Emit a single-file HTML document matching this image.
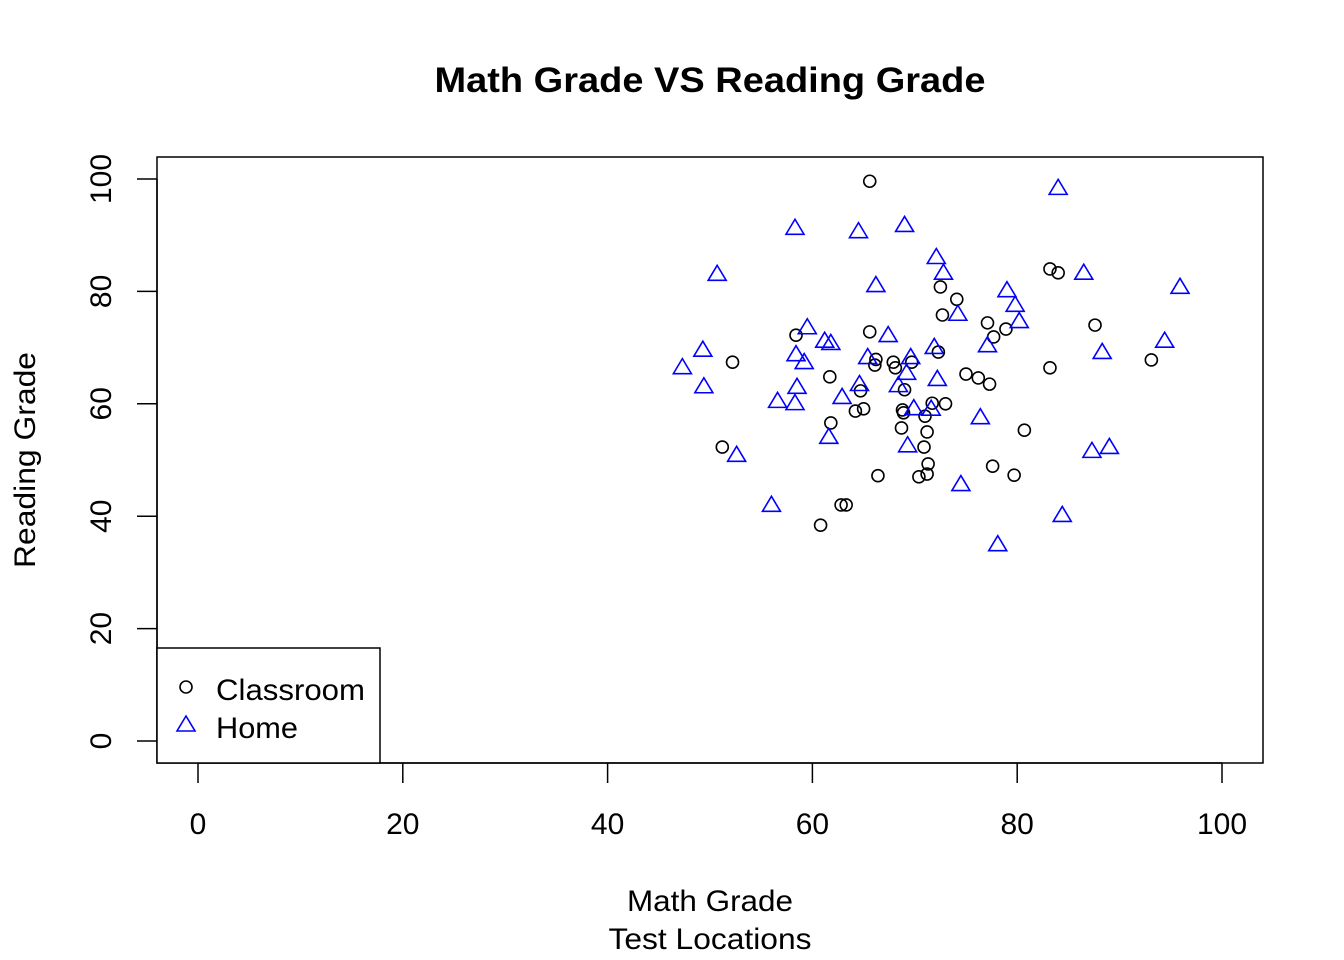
<!DOCTYPE html>
<html><head><meta charset="utf-8"><style>
html,body{margin:0;padding:0;background:#fff;}
svg{display:block;font-family:"Liberation Sans",Arial,sans-serif;}
</style></head><body>
<svg id="chart" width="1344" height="960" viewBox="0 0 1344 960">
<text x="710" y="92" text-anchor="middle" font-size="35" font-weight="bold" textLength="551" lengthAdjust="spacingAndGlyphs">Math Grade VS Reading Grade</text>
<rect x="157" y="157" width="1106" height="606" fill="none" stroke="#000" stroke-width="1.5"/>
<g id="xaxis"></g>
<g id="yaxis"></g>
<g id="points"></g>
<text x="710" y="911" text-anchor="middle" font-size="30" textLength="166" lengthAdjust="spacingAndGlyphs">Math Grade</text>
<text x="710" y="949" text-anchor="middle" font-size="30" textLength="203" lengthAdjust="spacingAndGlyphs">Test Locations</text>
<text transform="translate(35,460) rotate(-90)" text-anchor="middle" font-size="30" textLength="216" lengthAdjust="spacingAndGlyphs">Reading Grade</text>
<g>
<rect x="157" y="648" width="223" height="115" fill="#fff" stroke="#000" stroke-width="1.5"/>
<circle cx="186" cy="687" r="6" fill="none" stroke="#000" stroke-width="1.6"/>
<text x="216" y="700" font-size="30" textLength="149" lengthAdjust="spacingAndGlyphs">Classroom</text>
<polygon points="186,716 195,731 177,731" fill="none" stroke="#0000ff" stroke-width="1.6"/>
<text x="216" y="738" font-size="30" textLength="82" lengthAdjust="spacingAndGlyphs">Home</text>
</g>
</svg>
<script>
const xTicks=[0,20,40,60,80,100];
const yTicks=[0,20,40,60,80,100];
const classroomMath=[65.6,83.2,84.0,72.5,74.1,72.7,77.1,78.9,77.7,87.6,58.4,65.6,72.3,52.2,66.2,66.1,67.9,68.1,69.7,75.0,76.2,77.3,83.2,93.1,61.7,64.7,69.0,71.7,73.0,64.2,65.0,68.8,68.9,71.0,61.8,68.7,71.2,80.7,70.9,51.2,71.3,77.6,71.2,70.4,66.4,79.7,62.8,63.3,60.8];
const classroomReading=[99.6,84.0,83.3,80.8,78.6,75.8,74.4,73.3,71.9,74.0,72.2,72.8,69.2,67.4,67.9,66.9,67.4,66.4,67.4,65.3,64.6,63.5,66.4,67.8,64.8,62.3,62.5,60.1,60.0,58.7,59.1,58.9,58.4,57.8,56.6,55.7,55.0,55.3,52.3,52.3,49.3,48.9,47.5,47.0,47.2,47.3,42.0,42.0,38.4];
const homeMath=[84.0,58.3,64.5,69.0,72.1,72.8,50.7,86.5,66.2,79.0,95.9,79.8,74.2,80.2,59.5,67.4,61.2,61.8,94.4,77.1,71.9,49.3,88.3,58.4,65.4,69.6,59.2,47.3,69.2,72.2,64.6,49.4,58.5,68.4,62.9,56.6,58.3,69.9,71.6,76.4,61.6,69.3,89.0,87.3,52.6,74.5,56.0,84.4,78.1];
const homeReading=[98.6,91.5,90.9,92.0,86.3,83.5,83.3,83.5,81.3,80.4,81.0,77.8,76.2,74.9,73.8,72.4,71.4,71.0,71.4,70.6,70.3,69.8,69.4,69.0,68.5,68.5,67.6,66.7,65.7,64.6,63.7,63.3,63.2,63.5,61.4,60.7,60.3,59.4,59.3,57.8,54.3,52.8,52.5,51.8,51.1,45.9,42.2,40.4,35.2];
const NS='http://www.w3.org/2000/svg';
const xs=v=>198+v*10.24;
const ys=v=>741-v*5.62;
function mk(t,a){const e=document.createElementNS(NS,t);for(const k in a)e.setAttribute(k,a[k]);return e;}
const xa=document.getElementById('xaxis'),ya=document.getElementById('yaxis'),pts=document.getElementById('points');
xa.appendChild(mk('line',{x1:xs(0),x2:xs(100),y1:763,y2:763,stroke:'#000','stroke-width':1.5}));
xTicks.forEach(t=>{
 const l=mk('line',{x1:xs(t),x2:xs(t),y1:763,y2:783,stroke:'#000','stroke-width':1.5});
 
 
 xa.appendChild(l);
 const tx=mk('text',{x:xs(t),y:834,'text-anchor':'middle','font-size':30});
 
 
 tx.textContent=t;xa.appendChild(tx);
});
ya.appendChild(mk('line',{x1:157,x2:157,y1:ys(0),y2:ys(100),stroke:'#000','stroke-width':1.5}));
yTicks.forEach(t=>{
 const l=mk('line',{x1:137,x2:157,y1:ys(t),y2:ys(t),stroke:'#000','stroke-width':1.5});
 
 
 ya.appendChild(l);
 const tx=mk('text',{transform:`translate(111,${ys(t)}) rotate(-90)`,'text-anchor':'middle','font-size':30});
 
 
 tx.textContent=t;ya.appendChild(tx);
});
classroomMath.forEach((m,i)=>{
 const c=mk('circle',{cx:xs(m),cy:ys(classroomReading[i]),r:6,fill:'none',stroke:'#000','stroke-width':1.6});
 
 
 pts.appendChild(c);
});
homeMath.forEach((m,i)=>{
 const x=xs(m),y=ys(homeReading[i])+1.5;
 const p=mk('polygon',{points:`${x},${y-9} ${x+9},${y+6} ${x-9},${y+6}`,fill:'none',stroke:'#0000ff','stroke-width':1.6});
 
 
 pts.appendChild(p);
});
</script>
</body></html>
